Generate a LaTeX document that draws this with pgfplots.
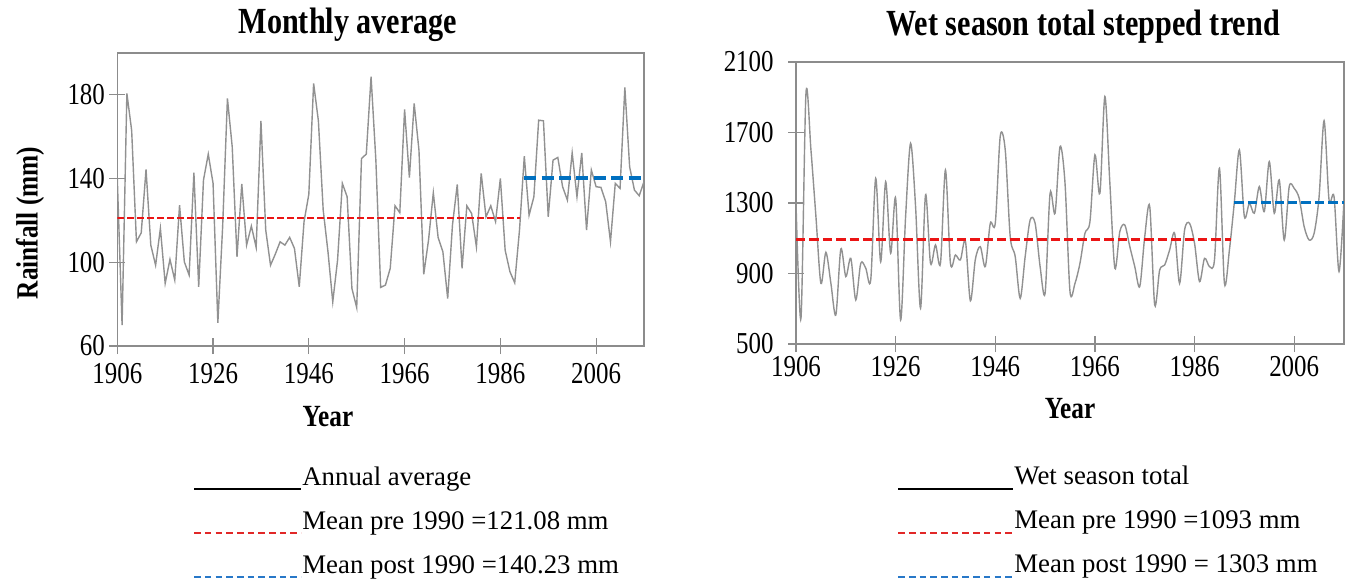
\documentclass[border=0pt]{standalone}
\usepackage{pgfplots}
\pgfplotsset{compat=1.18}
\usepackage{pgfplotstable}
\usepackage{fontspec}
\setmainfont{Liberation Serif}
\newfontfamily\chartfont{Liberation Serif}[FakeStretch=0.82]
\newcommand\tickfont{\chartfont\fontsize{15.2bp}{16bp}\selectfont}
\newcommand\titlefont{\chartfont\bfseries\fontsize{18.4bp}{20bp}\selectfont}
\newcommand\labfont{\chartfont\bfseries\fontsize{15.4bp}{17bp}\selectfont}
\newcommand\legfont{\fontsize{13.4bp}{16bp}\selectfont}
\definecolor{dline}{RGB}{145,145,145}
\definecolor{mred}{RGB}{235,20,20}
\definecolor{mblue}{RGB}{0,112,192}
\definecolor{lred}{RGB}{225,40,40}
\definecolor{lblue}{RGB}{40,120,200}
\definecolor{framec}{RGB}{140,140,140}

\pgfplotstableread{
year val
1906 140
1907 70
1908 180.7
1909 163
1910 109.8
1911 114.1
1912 144.4
1913 108.2
1914 98.6
1915 116.2
1916 89.9
1917 101.4
1918 91.5
1919 127.3
1920 100.2
1921 93.9
1922 142.8
1923 88.3
1924 139.3
1925 151.7
1926 137.7
1927 71.1
1928 117
1929 178.3
1930 155.2
1931 102.6
1932 137.4
1933 108.2
1934 117.3
1935 107.1
1936 167.5
1937 115.4
1938 98.6
1939 103.9
1940 109.8
1941 108.2
1942 111.9
1943 106.6
1944 88.3
1945 119.4
1946 132.5
1947 185.5
1948 167.5
1949 125
1950 105
1951 81.1
1952 101
1953 137.7
1954 131.3
1955 87.5
1956 78.4
1957 149.6
1958 151.7
1959 188.7
1960 148.8
1961 88
1962 89.1
1963 97.1
1964 127
1965 123.7
1966 173
1967 140.5
1968 175.9
1969 153.6
1970 94.3
1971 110.6
1972 133.2
1973 111.9
1974 105
1975 82.7
1976 117.8
1977 137.2
1978 97.1
1979 127
1980 123.3
1981 107.4
1982 142.5
1983 121.7
1984 127
1985 119.4
1986 140.1
1987 105.8
1988 95.5
1989 90.2
1990 115.4
1991 150.7
1992 122.5
1993 131.3
1994 167.9
1995 167.6
1996 121.7
1997 148.8
1998 150.1
1999 136.1
2000 129.7
2001 152.3
2002 131.3
2003 152.3
2004 115.4
2005 144.1
2006 136.1
2007 135.8
2008 128.9
2009 109.8
2010 137.7
2011 135.3
2012 183.6
2013 145.6
2014 134.5
2015 131.8
2016 138.5
}\monthly

\pgfplotstableread{
year val
1906 1298
1907 646
1908 1922
1909 1601
1910 1223
1911 844
1912 1020
1913 845
1914 665
1915 1039
1916 882
1917 986
1918 750
1919 958
1920 930
1921 863
1922 1440
1923 967
1924 1421
1925 1015
1926 1327
1927 636
1928 1223
1929 1639
1930 1280
1931 703
1932 1346
1933 958
1934 1062
1935 958
1936 1487
1937 958
1938 1005
1939 977
1940 1085
1941 745
1942 980
1943 1052
1944 939
1945 1185
1946 1185
1947 1680
1948 1601
1949 1109
1950 996
1951 759
1952 996
1953 1204
1954 1185
1955 939
1956 788
1957 1355
1958 1242
1959 1620
1960 1412
1961 797
1962 844
1963 958
1964 1128
1965 1194
1966 1573
1967 1355
1968 1904
1969 1412
1970 930
1971 1138
1972 1175
1973 1053
1974 939
1975 826
1976 1109
1977 1281
1978 722
1979 920
1980 948
1981 1034
1982 1128
1983 844
1984 1147
1985 1185
1986 1071
1987 854
1988 986
1989 939
1990 977
1991 1497
1992 844
1993 1034
1994 1308
1995 1601
1996 1223
1997 1298
1998 1242
1999 1393
2000 1251
2001 1535
2002 1242
2003 1431
2004 1090
2005 1393
2006 1383
2007 1327
2008 1166
2009 1090
2010 1128
2011 1336
2012 1767
2013 1317
2014 1336
2015 911
2016 1317
}\wet

\pgfplotsset{
  common/.style={
    scale only axis,
    anchor=south west,
    xmin=1906, xmax=2016,
    xtick={1906,1926,1946,1966,1986,2006},
    axis line style={draw=framec, line width=0.6bp},
    tick style={draw=framec, line width=0.6bp},
    tick align=center,
    major tick length=8bp,
    xtick pos=bottom, ytick pos=left,
    /pgf/number format/1000 sep={},
    /pgf/number format/assume math mode=true,
    tick label style={font=\tickfont},
    xticklabel style={anchor=base, inner sep=0pt},
    yticklabel style={anchor=east, inner sep=0pt},
    title style={font=\titlefont, anchor=base, inner sep=0pt},
    xlabel style={font=\labfont, anchor=base, inner sep=0pt},
    ylabel style={font=\labfont, inner sep=0pt},
    legend cell align=left,
  },
}

\begin{document}
\begin{tikzpicture}
\useasboundingbox (0,0) rectangle (674.5bp,291bp);

\begin{axis}[common,
  at={(58.65bp,118bp)},
  width=263.35bp, height=146.5bp,
  ymin=60, ymax=200,
  ytick={60,100,140,180},
  xticklabel style={yshift=-14.8bp},
  yticklabel style={xshift=-2bp},
  title={Monthly average},
  title style={at={(axis description cs:0.438,1)}, yshift=4bp},
  xlabel={Year},
  xlabel style={at={(axis description cs:0.40,0)}, yshift=-40bp},
  ylabel={Rainfall (mm)},
  ylabel style={at={(axis description cs:-0.1657,0.42)}, anchor=center},
  legend style={at={(axis description cs:0.1437,-0.413)}, anchor=north west,
    draw=none, fill=none, inner sep=0pt, outer sep=0pt, row sep=10bp,
    font=\legfont,
    nodes={anchor=base west, inner sep=0pt, text height=9bp, text depth=3bp}},
  legend image code/.code={\draw[#1] (0bp,-2bp) -- (53.5bp,-2bp);},
]
\addplot[dline, line width=0.7bp, forget plot] table[x=year, y=val] {\monthly};
\addplot[mred, line width=1.1bp, dash pattern=on 3.5bp off 1.5bp, forget plot]
  coordinates {(1906,121.08) (1990,121.08)};
\addplot[mblue, line width=2.1bp, dash pattern=on 6bp off 2.7bp, forget plot]
  coordinates {(1991,140.23) (2016,140.23)};
\addlegendimage{black, line width=1.2bp}
\addlegendentry{Annual average}
\addlegendimage{lred, line width=0.85bp, dash pattern=on 3.3bp off 2.05bp}
\addlegendentry{Mean pre 1990 =121.08 mm}
\addlegendimage{lblue, line width=0.85bp, dash pattern=on 3.3bp off 2.05bp}
\addlegendentry{Mean post 1990 =140.23 mm}
\end{axis}

\begin{axis}[common,
  at={(398bp,119bp)},
  width=274bp, height=141bp,
  ymin=500, ymax=2100,
  ytick={500,900,1300,1700,2100},
  xticklabel style={yshift=-12.3bp},
  yticklabel style={xshift=-7bp},
  title={Wet season total stepped trend},
  title style={at={(axis description cs:0.524,1)}, yshift=7.5bp},
  xlabel={Year},
  xlabel style={at={(axis description cs:0.5,0)}, yshift=-37bp},
  legend style={at={(axis description cs:0.1843,-0.436)}, anchor=north west,
    draw=none, fill=none, inner sep=0pt, outer sep=0pt, row sep=10bp,
    font=\legfont,
    nodes={anchor=base west, inner sep=0pt, text height=9bp, text depth=3bp}},
  legend image code/.code={\draw[#1] (0bp,-2bp) -- (57.5bp,-2bp);},
]
\addplot[dline, line width=0.7bp, smooth, tension=0.5, forget plot] table[x=year, y=val] {\wet};
\addplot[mred, line width=1.6bp, dash pattern=on 4.7bp off 2bp, forget plot]
  coordinates {(1906,1093) (1993.3,1093)};
\addplot[mblue, line width=1.6bp, dash pattern=on 4.7bp off 2bp, forget plot]
  coordinates {(1994,1303) (2016,1303)};
\addlegendimage{black, line width=1.2bp}
\addlegendentry{Wet season total}
\addlegendimage{lred, line width=0.85bp, dash pattern=on 3.3bp off 2.05bp}
\addlegendentry{Mean pre 1990 =1093 mm}
\addlegendimage{lblue, line width=0.85bp, dash pattern=on 3.3bp off 2.05bp}
\addlegendentry{Mean post 1990 = 1303 mm}
\end{axis}
\end{tikzpicture}
\end{document}
